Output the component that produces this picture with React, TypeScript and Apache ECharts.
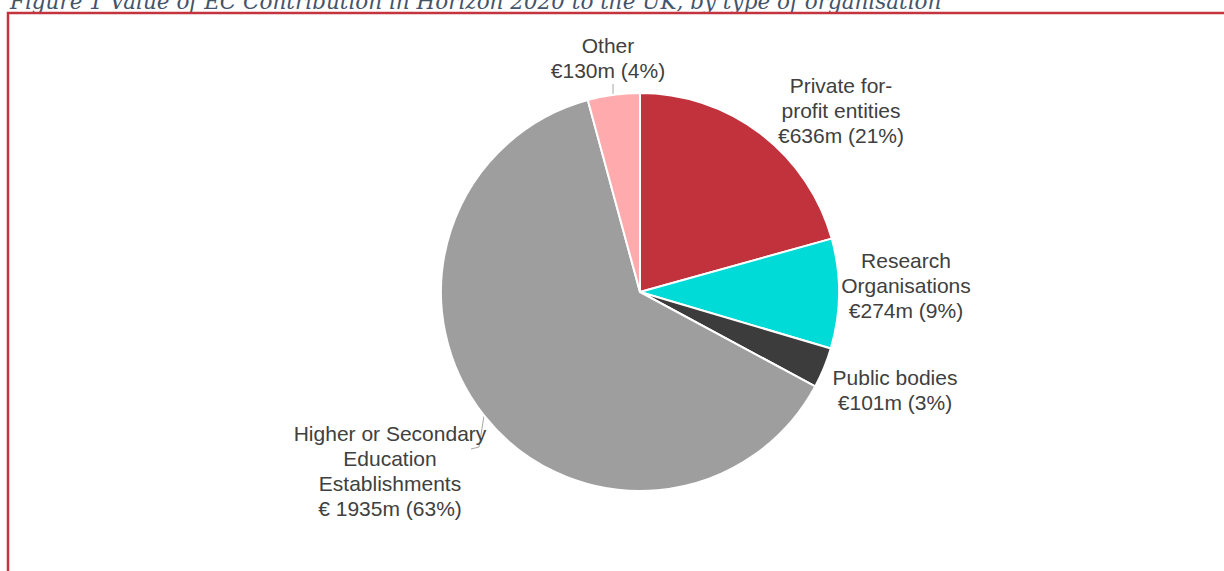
import React, { useEffect, useRef } from 'react';
import * as echarts from 'echarts';

const caption = 'Figure 1 Value of EC Contribution in Horizon 2020 to the UK, by type of organisation';
const categories = [
  'Private for-profit entities',
  'Research Organisations',
  'Public bodies',
  'Higher or Secondary Education Establishments',
  'Other',
];
const labelNames = [
  'Private for-\nprofit entities',
  'Research\nOrganisations',
  'Public bodies',
  'Higher or Secondary\nEducation\nEstablishments',
  'Other',
];
const values = [636, 274, 101, 1935, 130];
const euroPrefix = ['€', '€', '€', '€ ', '€'];
const colors = ['#C1323D', '#00DBD7', '#3C3C3C', '#9E9E9E', '#FFAAAC'];
const labelAnchors = [
  [841, 110],
  [906, 285],
  [895, 390],
  [390, 471],
  [608, 58],
];
const leaderLines: Record<number, number[][]> = {
  3: [[484, 416], [479, 447], [471, 449]],
  4: [[613, 95], [613, 90], [613, 84]],
};

export default function App() {
  const ref = useRef<HTMLDivElement>(null);
  useEffect(() => {
    if (!ref.current) return;
    const chart = echarts.init(ref.current, undefined, { renderer: 'svg' });
    chart.setOption({
      animation: false,
      backgroundColor: '#ffffff',
      graphic: [
        {
          type: 'text',
          x: 10,
          y: 1,
          style: {
            text: caption,
            fontFamily: 'DejaVu Serif',
            fontStyle: 'italic',
            fontSize: 21.5,
            fill: '#44546A',
            verticalAlign: 'middle',
            align: 'left',
          },
          z: 10,
        },
        {
          type: 'rect',
          shape: { x: 8, y: 13, width: 1240, height: 600 },
          style: { fill: 'none', stroke: '#C3343F', lineWidth: 2.5 },
          z: 10,
        },
      ],
      series: [
        {
          type: 'pie',
          center: [640, 292],
          radius: 199,
          startAngle: 90,
          clockwise: true,
          avoidLabelOverlap: false,
          itemStyle: { borderColor: '#ffffff', borderWidth: 2 },
          label: {
            show: true,
            position: 'outside',
            fontFamily: 'Liberation Sans',
            fontSize: 21,
            lineHeight: 25,
            color: '#404040',
            align: 'center',
            formatter: (p: any) =>
              `${labelNames[p.dataIndex]}\n${euroPrefix[p.dataIndex]}${p.value}m (${Math.round(p.percent)}%)`,
          },
          labelLine: { show: false, lineStyle: { color: '#A6A6A6', width: 1 } },
          labelLayout: (params: any) => {
            const i = params.dataIndex;
            const res: any = {
              x: labelAnchors[i][0],
              y: labelAnchors[i][1],
              align: 'center',
              verticalAlign: 'middle',
            };
            if (leaderLines[i]) res.labelLinePoints = leaderLines[i];
            return res;
          },
          data: categories.map((name, i) => ({
            name,
            value: values[i],
            itemStyle: { color: colors[i] },
            labelLine: { show: !!leaderLines[i] },
          })),
        },
      ],
    });
    return () => chart.dispose();
  }, []);
  return (
    <div
      ref={ref}
      style={{ position: 'absolute', left: 0, top: 0, width: 1224, height: 571 }}
    />
  );
}
